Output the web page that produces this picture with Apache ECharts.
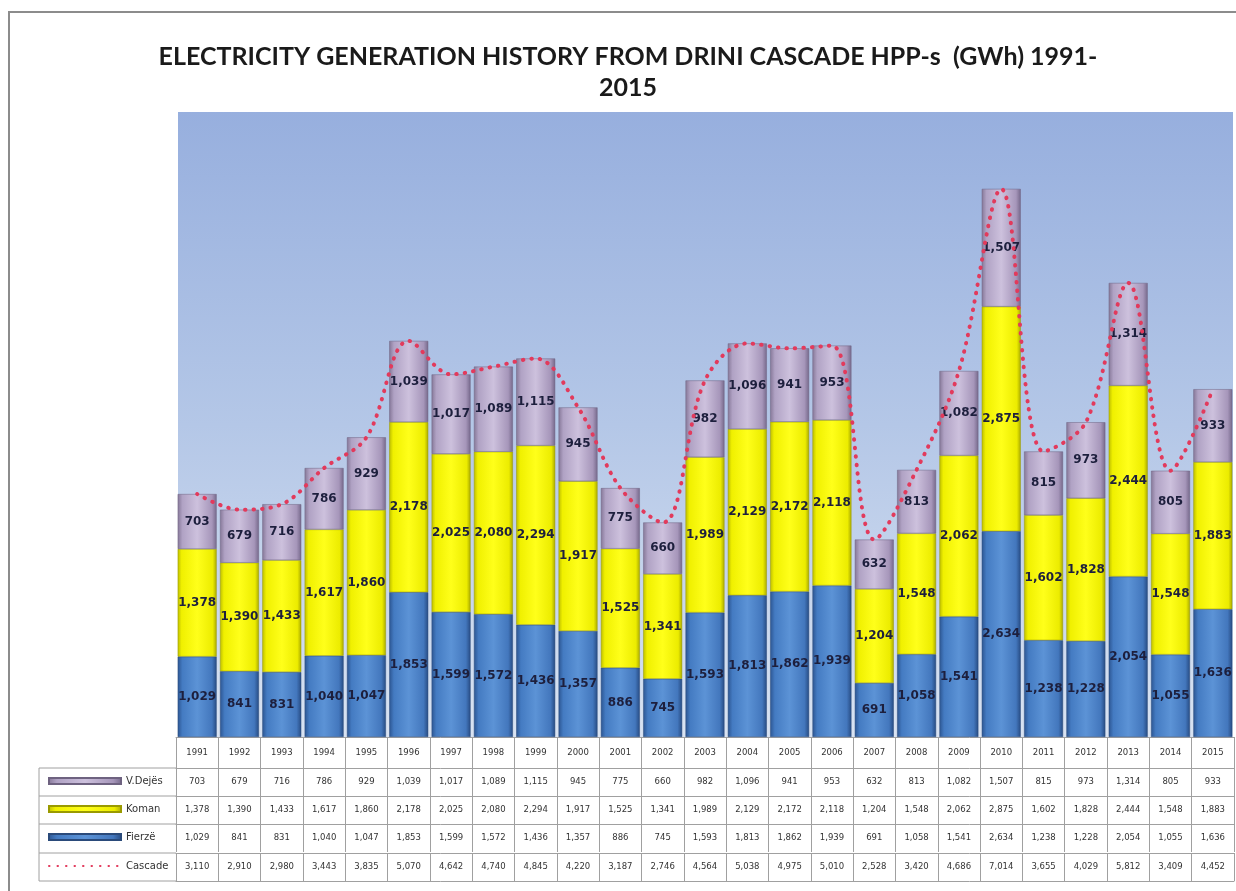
<!DOCTYPE html>
<html>
<head>
<meta charset="utf-8">
<script src="https://cdn.jsdelivr.net/npm/echarts@6/dist/echarts.min.js"></script>
<style>
html,body{margin:0;padding:0;background:#ffffff;}
#chart{width:1236px;height:891px;}
</style>
</head>
<body>
<div id="chart"></div>
<script>
var years = ['1991','1992','1993','1994','1995','1996','1997','1998','1999','2000','2001','2002','2003','2004','2005','2006','2007','2008','2009','2010','2011','2012','2013','2014','2015'];
var fierze = [1029,841,831,1040,1047,1853,1599,1572,1436,1357,886,745,1593,1813,1862,1939,691,1058,1541,2634,1238,1228,2054,1055,1636];
var koman  = [1378,1390,1433,1617,1860,2178,2025,2080,2294,1917,1525,1341,1989,2129,2172,2118,1204,1548,2062,2875,1602,1828,2444,1548,1883];
var vdejes = [703,679,716,786,929,1039,1017,1089,1115,945,775,660,982,1096,941,953,632,813,1082,1507,815,973,1314,805,933];
var cascade = [3110,2910,2980,3443,3835,5070,4642,4740,4845,4220,3187,2746,4564,5038,4975,5010,2528,3420,4686,7014,3655,4029,5812,3409,4452];
var seriesNames = ['V.Dejës','Koman','Fierzë','Cascade'];
var titleText = 'ELECTRICITY GENERATION HISTORY FROM DRINI CASCADE HPP-s  (GWh) 1991-\n2015';

function fmt(n){ return String(n).replace(/\B(?=(\d{3})+(?!\d))/g, ','); }

var chart = echarts.init(document.getElementById('chart'), null, {renderer:'canvas'});

var gridLeft = 176, gridWidth = 1058, gridTop = 112, gridHeight = 625;
var tableFont = 'DejaVu Sans';
var lineCol = '#a0a0a0';

function hGrad(stops){
  return {type:'linear', x:0, y:0, x2:1, y2:0, colorStops: stops.map(function(s){return {offset:s[0], color:s[1]};})};
}
var blueGrad = hGrad([[0,'#2c5591'],[0.12,'#447bc2'],[0.5,'#5c93d6'],[0.88,'#4377bd'],[1,'#274b82']]);
var yellowGrad = hGrad([[0,'#bdbd00'],[0.1,'#f0f000'],[0.5,'#ffff1a'],[0.9,'#ecec00'],[1,'#a9a900']]);
var purpleGrad = hGrad([[0,'#857797'],[0.12,'#b0a2c4'],[0.5,'#cdc1dd'],[0.88,'#a696ba'],[1,'#75688a']]);

function barLabel(){
  return {show:true, position:'inside', fontFamily:'DejaVu Sans', fontWeight:'bold', fontSize:12, color:'#1d1f3d',
    formatter:function(p){return fmt(p.value);}};
}

var rowAxes = [
  {offset:31, data:vdejes},
  {offset:59, data:koman},
  {offset:87, data:fierze},
  {offset:116, data:cascade}
];

var xAxes = [{
  type:'category', data:years, gridIndex:0, position:'bottom', offset:0,
  axisLine:{show:true, lineStyle:{color:lineCol, width:1}},
  axisTick:{show:true, interval:0, length:31, lineStyle:{color:lineCol}},
  axisLabel:{interval:0, margin:11, fontSize:8.5, fontFamily:tableFont, color:'#333'}
}];
rowAxes.forEach(function(r){
  var arr = r.data;
  xAxes.push({
    type:'category', data:years, gridIndex:0, position:'bottom', offset:r.offset,
    axisLine:{show:true, lineStyle:{color:lineCol, width:1}},
    axisTick:{show:true, interval:0, length:28, lineStyle:{color:lineCol}},
    axisLabel:{interval:0, margin:9, fontSize:8.5, fontFamily:tableFont, color:'#333',
      formatter:function(v, i){ return fmt(arr[i]); }}
  });
});
xAxes.push({
  type:'category', data:years, gridIndex:0, position:'bottom', offset:144,
  axisLine:{show:true, lineStyle:{color:lineCol, width:1}},
  axisTick:{show:false}, axisLabel:{show:false}
});

var legendTops = [776, 804, 832, 861];
var legends = seriesNames.map(function(n, i){
  var item = {name:n};
  if (i < 3) { item.icon = 'rect'; }
  else { item.itemStyle = {color:'rgba(0,0,0,0)', borderWidth:0, opacity:0}; }
  return {
    data:[item],
    left:48, top:legendTops[i], padding:0, orient:'vertical',
    itemWidth:72, itemHeight:6, itemGap:7, selectedMode:false,
    textStyle:{fontSize:10, fontFamily:tableFont, color:'#333'}
  };
});

var option = {
  animation:false,
  backgroundColor:'#ffffff',
  title:{
    text:titleText, left:628, top:41, textAlign:'center', padding:0,
    textStyle:{fontFamily:'Lato', fontWeight:'bold', fontSize:25, lineHeight:31, color:'#1a1a1a'}
  },
  legend:legends,
  grid:{left:gridLeft, top:gridTop, width:gridWidth, height:gridHeight, containLabel:false},
  xAxis:xAxes,
  yAxis:{type:'value', min:0, max:8000, show:false, splitLine:{show:false}},
  graphic:[
    {type:'rect', z:-100, silent:true, shape:{x:9, y:12, width:1250, height:900},
      style:{fill:'none', stroke:'#8c8c8c', lineWidth:2}},
    {type:'rect', z:-90, silent:true, shape:{x:178, y:112, width:1055, height:625},
      style:{fill:{type:'linear', x:0, y:0, x2:0, y2:1, colorStops:[
        {offset:0, color:'#97afde'},{offset:0.5, color:'#b4c7e7'},{offset:1, color:'#d9e3f2'}]}}},
    {type:'line', silent:true, shape:{x1:39, y1:768, x2:39, y2:881}, style:{stroke:lineCol, lineWidth:1}},
    {type:'line', silent:true, shape:{x1:39, y1:768, x2:176, y2:768}, style:{stroke:lineCol, lineWidth:1}},
    {type:'line', silent:true, shape:{x1:39, y1:796, x2:176, y2:796}, style:{stroke:lineCol, lineWidth:1}},
    {type:'line', silent:true, shape:{x1:39, y1:824, x2:176, y2:824}, style:{stroke:lineCol, lineWidth:1}},
    {type:'line', silent:true, shape:{x1:39, y1:853, x2:176, y2:853}, style:{stroke:lineCol, lineWidth:1}},
    {type:'line', silent:true, shape:{x1:39, y1:881, x2:176, y2:881}, style:{stroke:lineCol, lineWidth:1}}
  ],
  series:[
    {name:'Fierzë', type:'bar', stack:'total', data:fierze, barCategoryGap:'8%',
      itemStyle:{color:blueGrad, borderColor:'#2a4a7a', borderWidth:0.5}, label:barLabel()},
    {name:'Koman', type:'bar', stack:'total', data:koman, barCategoryGap:'8%',
      itemStyle:{color:yellowGrad, borderColor:'#9a9a00', borderWidth:0.5}, label:barLabel()},
    {name:'V.Dejës', type:'bar', stack:'total', data:vdejes, barCategoryGap:'8%',
      itemStyle:{color:purpleGrad, borderColor:'#6e6280', borderWidth:0.5}, label:barLabel()},
    {name:'Cascade', type:'line', data:cascade, smooth:0.35, symbol:'none', z:5,
      itemStyle:{color:'#e23a5c'},
      lineStyle:{color:'#e23a5c', width:4, type:[0.5,8], cap:'round'}}
  ]
};
chart.setOption(option);
</script>
</body>
</html>
